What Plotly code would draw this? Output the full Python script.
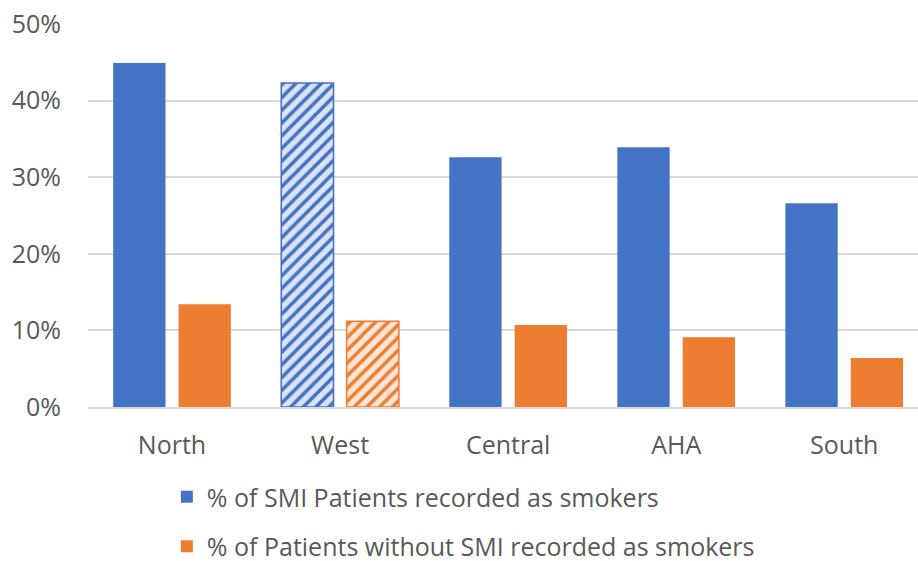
import plotly.graph_objects as go

regions = ["North", "West", "Central", "AHA", "South"]
smi_smokers = [0.449, 0.423, 0.326, 0.339, 0.266]
non_smi_smokers = [0.134, 0.112, 0.107, 0.091, 0.064]
y_ticks = [0, 0.1, 0.2, 0.3, 0.4, 0.5]

BLUE = "#4472c4"
BLUE_LIGHT = "#dae3f3"
ORANGE = "#ed7d31"
ORANGE_LIGHT = "#fbe5d6"
TEXT = "#595959"
GRID = "#d9d9d9"

# West is drawn hatched; the other regions are solid
hatch = ["/" if r == "West" else "" for r in regions]


def series(name, values, solid, light):
    return go.Bar(
        name=name,
        x=regions,
        y=values,
        legendgroup=name,
        marker=dict(
            color=solid,
            line=dict(color=[solid if h else "rgba(0,0,0,0)" for h in hatch], width=1.5),
            pattern=dict(shape=hatch, fgcolor=[solid] * len(regions),
                         bgcolor=[light] * len(regions), fgopacity=1,
                         fillmode="replace", size=9, solidity=0.4),
        ),
    )


fig = go.Figure([
    series("% of SMI Patients recorded as smokers", smi_smokers, BLUE, BLUE_LIGHT),
    series("% of Patients without SMI recorded as smokers", non_smi_smokers, ORANGE, ORANGE_LIGHT),
])

# plot area spans the paper above the legend band; the legend sits inside the paper
H, TOP, PLOT_BOTTOM = 561, 24, 407
paper_h = H - TOP
y_domain_start = (H - PLOT_BOTTOM) / paper_h

fig.update_layout(
    width=918,
    height=H,
    margin=dict(l=88, r=0, t=TOP, b=0, autoexpand=False),
    paper_bgcolor="white",
    plot_bgcolor="white",
    font=dict(family="Open Sans, Noto Sans, sans-serif", size=25, color=TEXT),
    barmode="group",
    bargap=0.222,
    bargroupgap=0.2,
    showlegend=True,
    legend=dict(
        orientation="v",
        x=0.095,
        xanchor="left",
        y=(H - 474) / paper_h,
        yanchor="top",
        traceorder="grouped",
        tracegroupgap=14,
        font=dict(size=25, color=TEXT),
        bgcolor="rgba(0,0,0,0)",
    ),
    xaxis=dict(
        range=[-0.5, 4.439],
        showgrid=False,
        showline=True,
        linecolor=GRID,
        linewidth=1.5,
        ticks="",
        ticklabelstandoff=15,
        tickfont=dict(size=25, color=TEXT),
        tickangle=0,
    ),
    yaxis=dict(
        domain=[y_domain_start, 1],
        range=[0, 0.5],
        tickvals=y_ticks,
        tickformat=".0%",
        showgrid=True,
        gridcolor=GRID,
        gridwidth=1.5,
        zeroline=False,
        showline=False,
        ticks="",
        ticklabelstandoff=26,
        tickfont=dict(size=25, color=TEXT),
    ),
)

fig.write_html("out.html")
